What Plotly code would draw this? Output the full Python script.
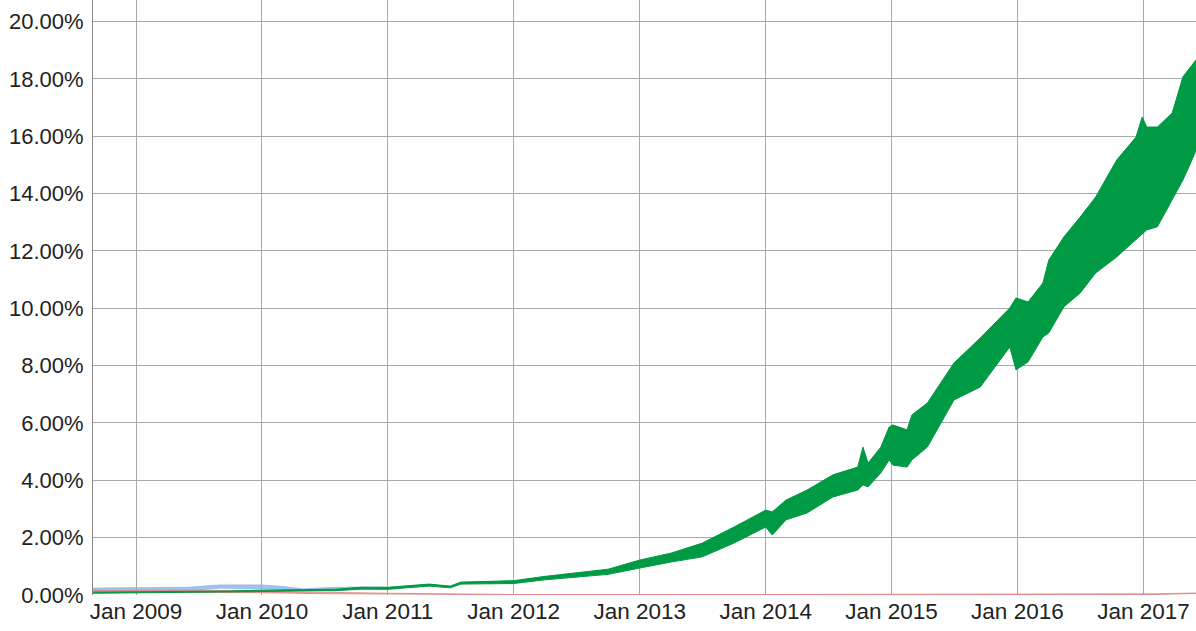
import plotly.graph_objects as go

# green series: upper / lower edge of the weekly swing, in percent
green_dates = ['2008-08-29', '2009-01-01', '2009-06-01', '2009-10-01', '2010-01-01', '2010-05-01',
               '2010-08-01', '2010-10-15', '2011-01-01', '2011-05-01', '2011-07-01', '2011-08-01',
               '2012-01-01', '2012-04-01', '2012-07-01', '2012-10-01', '2013-01-01', '2013-04-01',
               '2013-07-01', '2013-10-01', '2014-01-01', '2014-01-20', '2014-03-01', '2014-05-01',
               '2014-07-15', '2014-09-25', '2014-10-10', '2014-10-25', '2014-12-01', '2014-12-25',
               '2015-01-05', '2015-02-15', '2015-03-01', '2015-04-15', '2015-07-01', '2015-09-15',
               '2015-12-10', '2015-12-28', '2016-02-01', '2016-03-15', '2016-04-01', '2016-05-15',
               '2016-07-01', '2016-08-15', '2016-10-15', '2016-12-10', '2016-12-28', '2017-01-10',
               '2017-02-10', '2017-03-25', '2017-04-25', '2017-05-15', '2017-06-02']
green_high = [0.10, 0.11, 0.12, 0.14, 0.17, 0.20,
              0.20, 0.27, 0.27, 0.38, 0.31, 0.45,
              0.50, 0.65, 0.78, 0.90, 1.22, 1.46,
              1.81, 2.37, 2.96, 2.90, 3.31, 3.66,
              4.19, 4.46, 5.16, 4.60, 5.16, 5.86,
              5.93, 5.76, 6.28, 6.70, 8.09, 8.96,
              10.01, 10.36, 10.22, 10.88, 11.68, 12.49,
              13.18, 13.88, 15.17, 15.97, 16.67, 16.32,
              16.32, 16.81, 18.07, 18.40, 18.66]
green_low = [0.06, 0.07, 0.08, 0.09, 0.12, 0.15,
             0.15, 0.21, 0.20, 0.31, 0.25, 0.38,
             0.40, 0.53, 0.62, 0.72, 0.94, 1.15,
             1.33, 1.81, 2.37, 2.09, 2.62, 2.86,
             3.42, 3.66, 3.84, 3.77, 4.26, 4.71,
             4.53, 4.46, 4.71, 5.16, 6.80, 7.25,
             8.65, 7.85, 8.13, 9.00, 9.14, 10.05,
             10.53, 11.23, 11.79, 12.38, 12.56, 12.73,
             12.84, 13.78, 14.47, 15.00, 15.50]

# blue series, only visible up to early 2011
blue_dates = ['2008-08-29', '2009-06-01', '2009-09-01', '2010-01-01', '2010-03-01', '2010-05-01',
              '2010-07-01', '2010-10-01', '2010-12-15', '2011-02-01']
blue_high = [0.24, 0.27, 0.35, 0.35, 0.30, 0.21, 0.25, 0.28, 0.27, 0.25]
blue_low = [0.14, 0.15, 0.24, 0.22, 0.20, 0.14, 0.16, 0.20, 0.22, 0.22]

# red series, close to zero
red_dates = ['2008-08-29', '2009-06-01', '2010-01-01', '2010-06-01', '2011-01-01', '2011-06-01',
             '2012-01-01', '2014-01-01', '2016-01-01', '2016-10-01', '2017-02-01', '2017-06-02']
red_high = [0.16, 0.17, 0.15, 0.10, 0.06, 0.05, 0.02, 0.02, 0.02, 0.02, 0.04, 0.07]
red_low = [0.10, 0.10, 0.08, 0.05, 0.03, 0.02, 0.01, 0.01, 0.01, 0.01, 0.02, 0.05]

fig = go.Figure()


def add_band(dates, low, high, color, name):
    fig.add_trace(go.Scatter(x=dates, y=low, mode='lines', line=dict(color=color, width=1),
                             showlegend=False, hoverinfo='skip'))
    fig.add_trace(go.Scatter(x=dates, y=high, mode='lines', line=dict(color=color, width=1),
                             fill='tonexty', fillcolor=color, name=name, showlegend=False))


add_band(blue_dates, blue_low, blue_high, 'rgba(140,180,230,0.8)', 'Blue')
add_band(red_dates, red_low, red_high, 'rgba(230,130,130,0.8)', 'Red')
add_band(green_dates, green_low, green_high, '#009a44', 'Green')

fig.update_layout(
    width=1196,
    height=631,
    margin=dict(l=93, r=0, t=0, b=36, autoexpand=False),
    paper_bgcolor='white',
    plot_bgcolor='white',
    font=dict(family='Liberation Sans, Arial, sans-serif', size=22, color='#222'),
    xaxis=dict(
        range=['2008-08-29', '2017-06-02'],
        tickformat='%b %Y',
        dtick='M12',
        tick0='2009-01-01',
        showgrid=True,
        gridcolor='#a8a8a8',
        gridwidth=1,
        showline=False,
        zeroline=False,
        ticks='',
        tickfont=dict(size=22.5),
        automargin=False,
    ),
    yaxis=dict(
        range=[0, 20.75],
        dtick=2,
        tickformat='.2f',
        ticksuffix='%',
        showgrid=True,
        gridcolor='#a8a8a8',
        gridwidth=1,
        showline=True,
        linecolor='#888',
        linewidth=1,
        zeroline=False,
        ticks='',
        ticklabelstandoff=4,
        automargin=False,
    ),
)

fig.write_html("out.html", config={'displayModeBar': False},
               post_script="document.body.style.margin='0';")
